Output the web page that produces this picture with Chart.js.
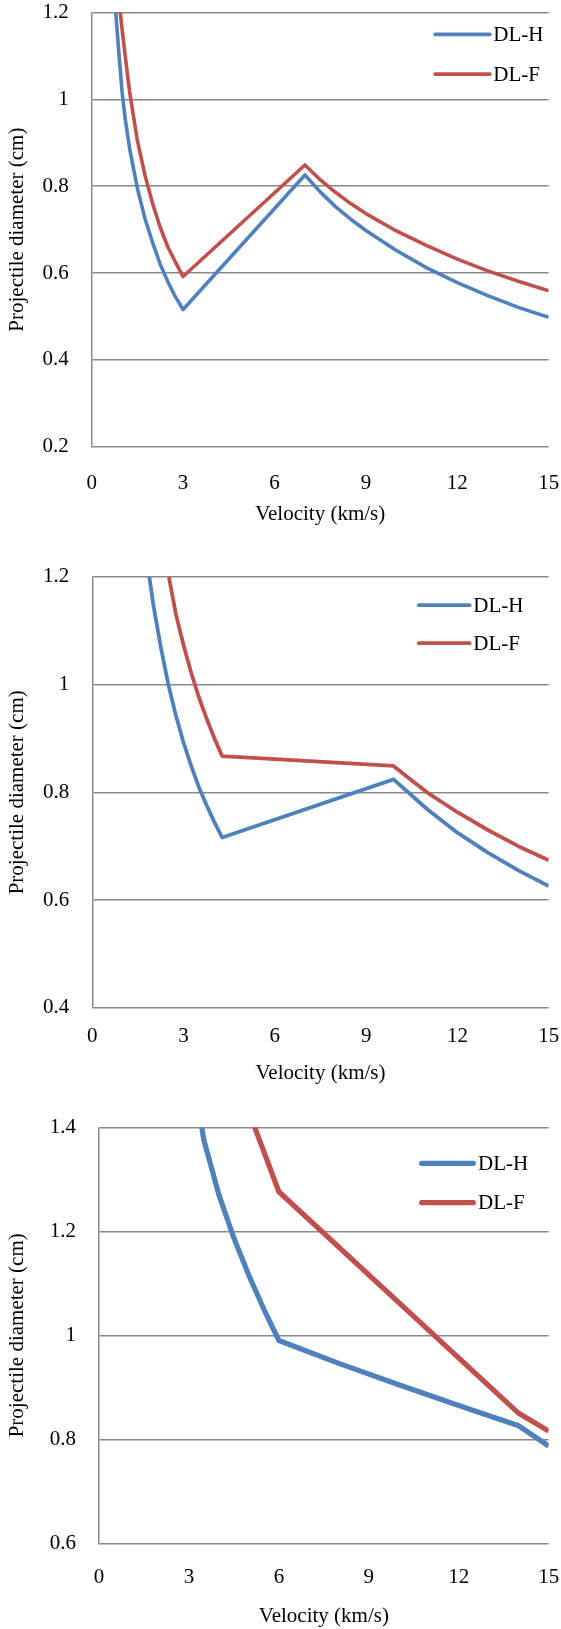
<!DOCTYPE html>
<html>
<head>
<meta charset="utf-8">
<script src="https://cdn.jsdelivr.net/npm/chart.js@4.4.1/dist/chart.umd.min.js"></script>
<style>
  html, body { margin: 0; padding: 0; background: #fff; }
  body { width: 561px; height: 1629px; position: relative; overflow: hidden; }
  .panel { position: absolute; left: 0; width: 561px; }
</style>
</head>
<body>
<div class="panel" style="top:0px"><canvas id="c1" width="561" height="527"></canvas></div>
<div class="panel" style="top:540px"><canvas id="c2" width="561" height="546"></canvas></div>
<div class="panel" style="top:1090px"><canvas id="c3" width="561" height="539"></canvas></div>
<script>
// chart data (velocity km/s -> projectile diameter cm)
const xTicks = [0, 3, 6, 9, 12, 15];

// panel 1
const h1x = [0.7, 0.8, 0.9, 1.0, 1.1, 1.25, 1.5, 1.75, 2.0, 2.25, 2.5, 2.75, 3.0, 7.0, 7.5, 8, 8.5, 9, 10, 11, 12, 13, 14, 15];
const h1y = [1.30, 1.19, 1.10, 1.015, 0.955, 0.885, 0.795, 0.725, 0.67, 0.62, 0.58, 0.545, 0.516, 0.826, 0.787, 0.753, 0.724, 0.698, 0.652, 0.612, 0.578, 0.548, 0.521, 0.498];
const f1x = [0.85, 0.9, 1.0, 1.1, 1.25, 1.5, 1.75, 2.0, 2.25, 2.5, 2.75, 3.0, 7.0, 7.5, 8, 8.5, 9, 10, 11, 12, 13, 14, 15];
const f1y = [1.28, 1.225, 1.16, 1.10, 1.015, 0.905, 0.825, 0.76, 0.705, 0.66, 0.625, 0.592, 0.849, 0.815, 0.786, 0.760, 0.737, 0.697, 0.663, 0.632, 0.605, 0.581, 0.559];

// panel 2
const h2x = [1.7, 1.75, 2.0, 2.25, 2.5, 2.75, 3.0, 3.25, 3.5, 3.75, 4.0, 4.27, 9.9, 10.5, 11, 12, 13, 14, 15];
const h2y = [1.27, 1.25, 1.15, 1.07, 1.0, 0.942, 0.892, 0.849, 0.81, 0.777, 0.746, 0.716, 0.824, 0.794, 0.769, 0.725, 0.688, 0.655, 0.626];
const f2x = [2.4, 2.55, 2.75, 3.0, 3.25, 3.5, 3.75, 4.0, 4.27, 9.9, 10.5, 11, 12, 13, 14, 15];
const f2y = [1.24, 1.19, 1.13, 1.073, 1.022, 0.977, 0.938, 0.902, 0.867, 0.849, 0.822, 0.80, 0.763, 0.73, 0.70, 0.674];

// panel 3
const h3x = [3.3, 3.5, 4.0, 4.5, 5.0, 5.5, 6.0, 8, 10, 12, 14, 15];
const h3y = [1.445, 1.375, 1.27, 1.187, 1.115, 1.05, 0.99, 0.946, 0.905, 0.865, 0.826, 0.787];
const f3x = [5.0, 6.0, 14, 15];
const f3y = [1.43, 1.276, 0.85, 0.816];

const seriesNames = ['DL-H', 'DL-F'];
const BLUE = '#4f81bd';
const RED = '#c0504d';
const GRID = '#8a8a8a';
const FONT = { family: '"Liberation Serif", "Times New Roman", serif', size: 21 };

function pts(xs, ys) {
  return xs.map((x, i) => ({ x: x, y: ys[i] }));
}

// legend drawn inside the plot area, like the Excel original
const innerLegend = {
  id: 'innerLegend',
  afterDatasetsDraw(chart, args, opts) {
    const { ctx, chartArea } = chart;
    ctx.save();
    chart.data.datasets.forEach((ds, i) => {
      const y = chartArea.top + opts.y[i];
      ctx.strokeStyle = ds.borderColor;
      ctx.lineWidth = ds.borderWidth;
      ctx.lineCap = 'round';
      ctx.beginPath();
      ctx.moveTo(chartArea.left + opts.x0, y);
      ctx.lineTo(chartArea.left + opts.x1, y);
      ctx.stroke();
      ctx.fillStyle = '#000';
      ctx.font = FONT.size + 'px ' + FONT.family;
      ctx.textBaseline = 'middle';
      ctx.textAlign = 'left';
      ctx.fillText(ds.label, chartArea.left + opts.tx, y + 1);
    });
    ctx.restore();
  }
};

const fmt = v => String(+Number(v).toFixed(1));

function makeChart(id, hx, hy, fx, fy, yMin, yMax, lay) {
  new Chart(document.getElementById(id), {
    type: 'line',
    data: {
      datasets: [
        { label: seriesNames[0], data: pts(hx, hy), borderColor: BLUE, borderWidth: lay.lw, pointRadius: 0, tension: 0, borderJoinStyle: 'round' },
        { label: seriesNames[1], data: pts(fx, fy), borderColor: RED, borderWidth: lay.lw, pointRadius: 0, tension: 0, borderJoinStyle: 'round' }
      ]
    },
    options: {
      responsive: false,
      animation: false,
      layout: { padding: { top: lay.top, right: 12.3, bottom: 0, left: 0 } },
      plugins: {
        legend: { display: false },
        tooltip: { enabled: false },
        innerLegend: lay.legend
      },
      scales: {
        x: {
          type: 'linear',
          min: 0, max: 15,
          afterBuildTicks: s => { s.ticks = xTicks.map(v => ({ value: v })); },
          afterFit: s => { s.height = lay.xh; },
          // invisible tick marks give the label gap without widening the side padding
          grid: { display: true, drawOnChartArea: false, drawTicks: true, tickLength: lay.xpad, tickColor: 'rgba(0,0,0,0)', color: 'rgba(0,0,0,0)' },
          border: { display: false },
          ticks: { color: '#000', font: FONT, padding: 0, maxRotation: 0, callback: fmt },
          title: { display: true, text: 'Velocity (km/s)', color: '#000', font: FONT, padding: { top: 0, bottom: 0 } }
        },
        y: {
          min: yMin, max: yMax,
          ticks: { stepSize: 0.2, color: '#000', font: FONT, padding: 0, callback: fmt },
          afterFit: s => { s.width = lay.yw; },
          grid: { color: GRID, lineWidth: 1.5, drawTicks: true, tickLength: 23, tickColor: 'rgba(0,0,0,0)' },
          border: { display: true, color: GRID, width: 1.5 },
          title: { display: true, text: 'Projectile diameter (cm)', color: '#000', font: FONT, padding: { top: 4.4, bottom: 0 } }
        }
      }
    },
    plugins: [innerLegend]
  });
}

makeChart('c1', h1x, h1y, f1x, f1y, 0.2, 1.2, {
  top: 12.5, xh: 80.3, xpad: 24, yw: 91.7, lw: 3.6,
  legend: { x0: 343.3, x1: 398.3, tx: 401.6, y: [21.8, 61.5] }
});
makeChart('c2', h2x, h2y, f2x, f2y, 0.4, 1.2, {
  top: 36.9, xh: 78.3, xpad: 15.7, yw: 92.3, lw: 3.8,
  legend: { x0: 326.5, x1: 377.3, tx: 381, y: [28.3, 66.3] }
});
makeChart('c3', h3x, h3y, f3x, f3y, 0.6, 1.4, {
  top: 37.3, xh: 85.7, xpad: 21.7, yw: 99, lw: 5.2,
  legend: { x0: 322.7, x1: 374.3, tx: 379, y: [36, 75.4] }
});
</script>
</body>
</html>
